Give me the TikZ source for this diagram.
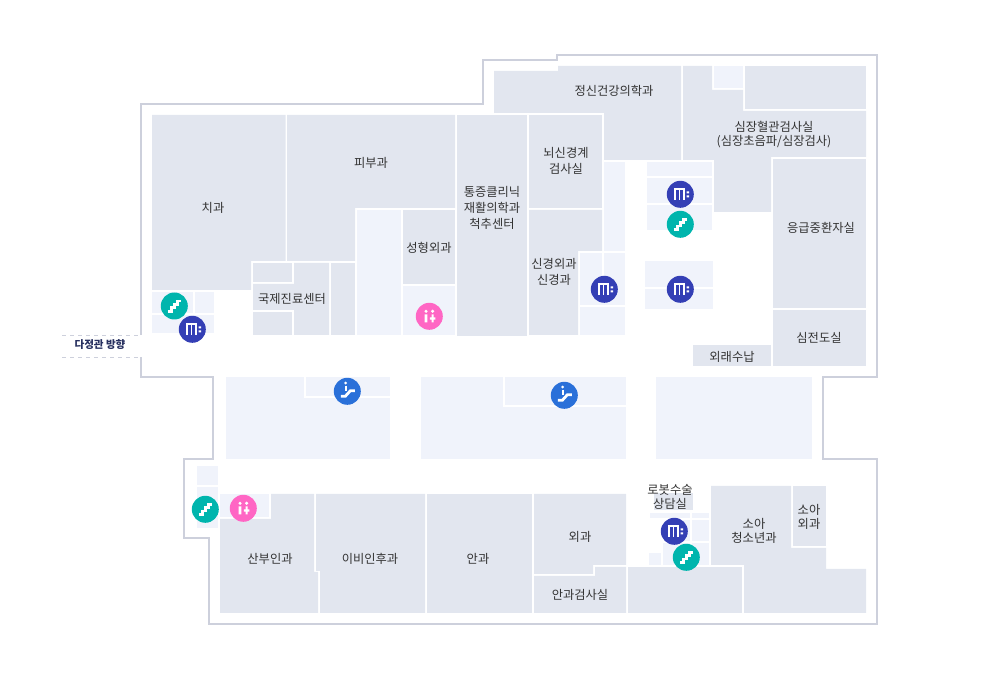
\documentclass[tikz,border=0pt]{standalone}
\usepackage{fontspec}
\setmainfont{Noto Sans CJK KR}
\definecolor{wallc}{HTML}{CDD0DC}
\definecolor{roomc}{HTML}{E2E6EF}
\definecolor{corec}{HTML}{F0F3FB}
\definecolor{stairc}{HTML}{00B5AD}
\definecolor{elevc}{HTML}{343FB5}
\definecolor{toiletc}{HTML}{FF66C4}
\definecolor{escalc}{HTML}{2A70D9}
\definecolor{textc}{HTML}{333333}
\definecolor{gatec}{HTML}{27305F}
\tikzset{wall/.style={draw=wallc,line width=1.5pt},room/.style={fill=roomc},core/.style={fill=corec},
roomname/.style={text=textc,align=center,inner sep=0pt,yshift=-.75pt,font=\fontsize{9.2}{10.5}\selectfont},
roomnamewide/.style={roomname,font=\fontsize{9.2}{12}\selectfont},
glyph/.style={draw=white,line width=2.1pt}}
\begin{document}
\begin{tikzpicture}[x=.75pt,y=-.75pt]
\useasboundingbox (0,0) rectangle (1000,680);
% draw outer wall
\draw[wall] (141,335) -- (141,104) -- (483,104) -- (483,60) -- (557,60) -- (557,55) -- (877,55) -- (877,377) -- (823,377) -- (823,459) -- (877,459) -- (877,624) -- (209,624) -- (209,538) -- (184,538) -- (184,459) -- (213,459) -- (213,377) -- (141,377) -- (141,357);
% draw way out
\draw[wallc,dashed,line width=.6pt] (62,335) -- (141,335);
\draw[wallc,dashed,line width=.6pt] (62,357) -- (141,357);
% draw rooms, upper left
\fill[room] (152,115) -- (285.5,115) -- (285.5,261) -- (251,261) -- (251,290) -- (152,290) -- cycle;
\fill[room] (287,115) -- (455,115) -- (455,208) -- (355,208) -- (355,261) -- (287,261) -- cycle;
\fill[room] (403,210) rectangle (455,284);
\fill[room] (253,263) rectangle (292,282);
\fill[room] (294,263) -- (329,263) -- (329,335) -- (294,335) -- (294,310) -- (253,310) -- (253,284) -- (294,284) -- cycle;
\fill[room] (253,312) rectangle (292,335);
\fill[room] (331,263) rectangle (355,335);
\fill[room] (457,115) rectangle (527,336);
% draw rooms, upper right
\fill[room] (494,71) -- (558,71) -- (558,66) -- (681,66) -- (681,160) -- (604,160) -- (604,113) -- (494,113) -- cycle;
\fill[room] (529,115) rectangle (602,208);
\fill[room] (529,210) -- (602,210) -- (602,251) -- (578,251) -- (578,335) -- (529,335) -- cycle;
\fill[room] (683,66) -- (712,66) -- (712,90) -- (743,90) -- (743,111) -- (866,111) -- (866,157) -- (771,157) -- (771,212) -- (714,212) -- (714,160) -- (683,160) -- cycle;
\fill[room] (745,66) rectangle (866,109);
\fill[room] (773,159) rectangle (866,308);
\fill[room] (773,310) rectangle (866,366);
\fill[room] (693,345) rectangle (771,366);
% draw rooms, lower
\fill[room] (220,519) -- (271,519) -- (271,494) -- (314,494) -- (314,572) -- (318,572) -- (318,613) -- (220,613) -- cycle;
\fill[room] (316,494) -- (425,494) -- (425,613) -- (320,613) -- (320,571) -- (316,571) -- cycle;
\fill[room] (427,494) rectangle (532,613);
\fill[room] (534,494) -- (626,494) -- (626,565) -- (593,565) -- (593,574) -- (534,574) -- cycle;
\fill[room] (534,576) -- (595,576) -- (595,567) -- (626,567) -- (626,613) -- (534,613) -- cycle;
\fill[room] (628,567) rectangle (742,613);
\fill[room] (711,486) -- (791,486) -- (791,548) -- (826,548) -- (826,569) -- (866,569) -- (866,613) -- (744,613) -- (744,565) -- (711,565) -- cycle;
\fill[room] (793,486) rectangle (826,546);
\fill[room] (654,493) rectangle (693,510);
% draw cores, upper
\fill[core] (357,210) rectangle (401,335);
\fill[core] (403,286) rectangle (455,335);
\fill[core] (152,292) rectangle (193,313);
\fill[core] (195,292) rectangle (214,313);
\fill[core] (152,315) rectangle (214,333);
\fill[core] (604,162) rectangle (625,251);
\fill[core] (580,253) rectangle (625,305);
\draw[white,line width=1.5pt] (603,253) -- (603,280);
\fill[core] (580,307) rectangle (625,335);
\fill[core] (647,162) rectangle (712,176);
\fill[core] (647,178) rectangle (712,203);
\fill[core] (647,205) rectangle (712,230);
\fill[core] (645,261) rectangle (713,287);
\fill[core] (645,289) rectangle (713,309);
\fill[core] (714,66) rectangle (743,88);
% draw cores, middle
\fill[core] (226,377) rectangle (390,459);
\fill[core] (421,377) rectangle (626,459);
\fill[core] (656,377) rectangle (812,459);
\draw[white,line width=1.5pt] (305,377) -- (305,397) -- (390,397);
\draw[white,line width=1.5pt] (504,377) -- (504,406) -- (626,406);
% draw cores, lower
\fill[core] (197,466) rectangle (218,485);
\fill[core] (197,487) rectangle (218,528);
\fill[core] (220,494) rectangle (269,517);
\fill[core] (650,513) rectangle (690,518);
\fill[core] (692,513) rectangle (709,518);
\fill[core] (670,520) rectangle (690,541);
\fill[core] (692,520) rectangle (709,541);
\fill[core] (663,543) rectangle (690,565);
\fill[core] (692,543) rectangle (709,565);
\fill[core] (649,553) rectangle (661,565);
% draw room names
\node[roomname] (dental) at (213,207) {치과};
\node[roomname] (derma) at (371,162) {피부과};
\node[roomnamewide] (pain) at (492,207) {통증클리닉\\재활의학과\\척추센터};
\node[roomname] (plastic) at (429,247) {성형외과};
\node[roomname] (intl) at (292,298) {국제진료센터};
\node[roomname] (psych) at (614,90) {정신건강의학과};
\node[roomname] (cardio) at (774,134) {심장혈관검사실\\(심장초음파/심장검사)};
\node[roomnamewide] (brain) at (566,160) {뇌신경계\\검사실};
\node[roomnamewide] (neuro) at (554,271) {신경외과\\신경과};
\node[roomname] (er) at (821,227) {응급중환자실};
\node[roomname] (ecg) at (819,337) {심전도실};
\node[roomname] (payment) at (732,356) {외래수납};
\node[roomname] (obgyn) at (270,558) {산부인과};
\node[roomname] (ent) at (370,558) {이비인후과};
\node[roomname] (eye) at (478,558) {안과};
\node[roomname] (surgery) at (580,536) {외과};
\node[roomname] (eyetest) at (580,594) {안과검사실};
\node[roomname] (robot) at (670,496) {로봇수술\\상담실};
\node[roomname] (kids) at (754,530) {소아\\청소년과};
\node[roomname] (kidssurg) at (809,516) {소아\\외과};
\node[text=gatec,inner sep=0pt,font=\fontsize{7.9}{9}\selectfont\bfseries] (gate) at (100,345) {다정관 방향};
% draw elevators
\foreach \x/\y in {192.3/329.3,680.3/194.3,604.3/289.3,680.3/289.3,674.3/531.3} {
  \fill[elevc,shift={(\x,\y)}] (0,0) circle (13.5);
  \draw[white,line width=1.2pt,shift={(\x,\y)}] (-5.5,5.5) -- (-5.5,-5) -- (3.6,-5) -- (3.6,5.5) (-1,-5) -- (-1,5.5);
  \fill[white,shift={(\x,\y)}] (6.2,-2.8) rectangle (8.8,-.8) (6.2,1.2) rectangle (8.8,3.2);
}
% draw stairs
\foreach \x/\y in {174.3/306,680.3/224.3,205.3/509.3,686.3/557.3} {
  \fill[stairc,shift={(\x,\y)}] (0,0) circle (13.5);
  \draw[glyph,shift={(\x,\y)}] (-6.5,5.5) -- (-3,5.5) -- (-3,1.8) -- (.5,1.8) -- (.5,-1.8) -- (3.5,-1.8) -- (3.5,-5) -- (7,-5);
}
% draw toilets
\foreach \x/\y in {429.3/316.3,243.3/508.3} {
  \fill[toiletc,shift={(\x,\y)}] (0,0) circle (13.5);
  \fill[white,shift={(\x,\y)}] (-3.3,-5) circle (1.7) (3.3,-5) circle (1.7);
  \fill[white,shift={(\x,\y)}] (-4.6,-2) rectangle (-2,6) (2.2,-2) rectangle (4.4,6) (.5,1.2) rectangle (6.1,3.4);
}
% draw escalators
\foreach \x/\y in {347.3/391.3,564.3/395.3} {
  \fill[escalc,shift={(\x,\y)}] (0,0) circle (13.5);
  \fill[white,shift={(\x,\y)}] (-1.7,-8.2) circle (1.5);
  \draw[white,line width=1.5pt,shift={(\x,\y)}] (-1.7,-5.5) -- (-1.7,-.5);
  \draw[glyph,shift={(\x,\y)}] (-6.5,5) -- (-2,5) -- (3,-.5) -- (7.5,-.5);
}
\end{tikzpicture}
\end{document}
